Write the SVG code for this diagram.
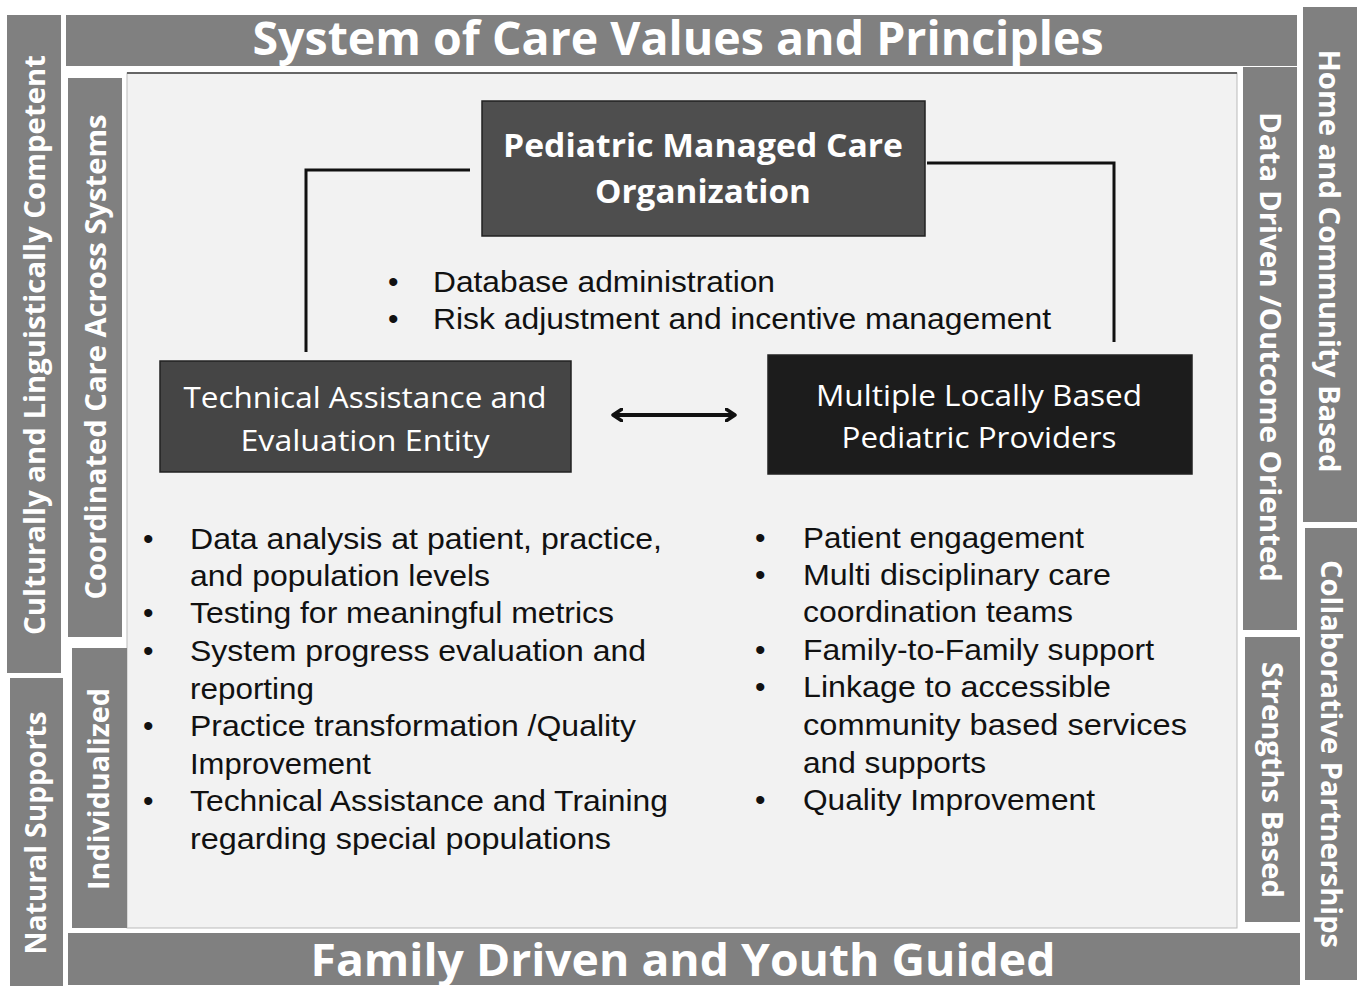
<svg xmlns="http://www.w3.org/2000/svg" width="1357" height="990" viewBox="0 0 1357 990">
<defs>
<marker id="chev" viewBox="0 0 12 14" refX="10" refY="7" markerWidth="12" markerHeight="14" markerUnits="userSpaceOnUse" orient="auto-start-reverse">
<path d="M1,1 L10,7 L1,13" fill="none" stroke="#111" stroke-width="3.5" stroke-linecap="round" stroke-linejoin="round"/>
</marker>
<style>
.band{fill:#808080;}
.bt{font-family:"Open Sans","DejaVu Sans",sans-serif;font-weight:700;fill:#ffffff;text-anchor:middle;}
.vt{font-size:29px;}
.nt{font-family:"Open Sans","DejaVu Sans",sans-serif;fill:#ffffff;text-anchor:middle;}
.bx{stroke:#222;stroke-width:1.5;}
.tx{font-family:"Liberation Sans",Arial,sans-serif;font-size:30px;fill:#111;}
.conn{fill:none;stroke:#111;stroke-width:3;}
</style>
</defs>
<rect x="0" y="0" width="1357" height="990" fill="#ffffff"/>

<g id="frame">
<rect x="127" y="73" width="1110" height="855" fill="#f2f2f2" stroke="#bbbbbb" stroke-width="1"/>
<line x1="127" y1="73" x2="1237" y2="73" stroke="#666" stroke-width="2"/>
</g>

<g id="band-top">
<rect class="band" x="66" y="15" width="1231" height="51"/>
<text class="bt" x="678" y="55" font-size="46" textLength="851" lengthAdjust="spacingAndGlyphs">System of Care Values and Principles</text>
</g>
<g id="band-bottom">
<rect class="band" x="68" y="933" width="1232" height="52"/>
<text class="bt" x="683" y="976" font-size="44" textLength="745" lengthAdjust="spacingAndGlyphs">Family Driven and Youth Guided</text>
</g>

<g id="band-culturally">
<rect class="band" x="7" y="15" width="54" height="658"/>
<text class="bt vt" transform="translate(35,345) rotate(-90)" y="10" textLength="580" lengthAdjust="spacingAndGlyphs">Culturally and Linguistically  Competent</text>
</g>
<g id="band-natural">
<rect class="band" x="10" y="678" width="53" height="308"/>
<text class="bt vt" transform="translate(36,833) rotate(-90)" y="10" textLength="243" lengthAdjust="spacingAndGlyphs">Natural Supports</text>
</g>
<g id="band-coordinated">
<rect class="band" x="68" y="78" width="54" height="559"/>
<text class="bt vt" transform="translate(96,357) rotate(-90)" y="10" textLength="485" lengthAdjust="spacingAndGlyphs">Coordinated Care Across Systems</text>
</g>
<g id="band-individualized">
<rect class="band" x="72" y="648" width="55" height="280"/>
<text class="bt vt" transform="translate(99,789) rotate(-90)" y="10" textLength="202" lengthAdjust="spacingAndGlyphs">Individualized</text>
</g>
<g id="band-datadriven">
<rect class="band" x="1243" y="67" width="54" height="563"/>
<text class="bt vt" transform="translate(1270,347) rotate(90)" y="10" textLength="470" lengthAdjust="spacingAndGlyphs">Data Driven /Outcome Oriented</text>
</g>
<g id="band-strengths">
<rect class="band" x="1245" y="637" width="55" height="285"/>
<text class="bt vt" transform="translate(1272,780) rotate(90)" y="10" textLength="236" lengthAdjust="spacingAndGlyphs">Strengths Based</text>
</g>
<g id="band-home">
<rect class="band" x="1303" y="7" width="54" height="515"/>
<text class="bt vt" transform="translate(1329,261) rotate(90)" y="10" textLength="423" lengthAdjust="spacingAndGlyphs">Home and Community Based</text>
</g>
<g id="band-collaborative">
<rect class="band" x="1305" y="528" width="52" height="452"/>
<text class="bt vt" transform="translate(1331,754) rotate(90)" y="10" textLength="388" lengthAdjust="spacingAndGlyphs">Collaborative Partnerships</text>
</g>

<g id="connectors">
<path class="conn" d="M470,170 H306 V352"/>
<path class="conn" d="M927,163 H1114 V342"/>
<line x1="613" y1="415" x2="735" y2="415" stroke="#111" stroke-width="4" marker-start="url(#chev)" marker-end="url(#chev)"/>
</g>

<g id="node-pmco">
<rect class="bx" x="482" y="101" width="443" height="135" fill="#4e4e4e"/>
<text class="nt" x="703" y="157" font-size="32" font-weight="700" textLength="400" lengthAdjust="spacingAndGlyphs">Pediatric Managed Care</text>
<text class="nt" x="703" y="203" font-size="32" font-weight="700" textLength="216" lengthAdjust="spacingAndGlyphs">Organization</text>
</g>

<g id="node-taee">
<rect class="bx" x="160" y="361" width="411" height="111" fill="#454545"/>
<text class="nt" x="365" y="408" font-size="30" textLength="363" lengthAdjust="spacingAndGlyphs">Technical Assistance and</text>
<text class="nt" x="365" y="451" font-size="30" textLength="249" lengthAdjust="spacingAndGlyphs">Evaluation Entity</text>
</g>

<g id="node-mlbpp">
<rect class="bx" x="768" y="355" width="424" height="119" fill="#1c1c1c"/>
<text class="nt" x="979" y="406" font-size="30" textLength="326" lengthAdjust="spacingAndGlyphs">Multiple Locally Based</text>
<text class="nt" x="979" y="448" font-size="30" textLength="275" lengthAdjust="spacingAndGlyphs">Pediatric Providers</text>
</g>

<g id="list-pmco">
<text class="tx" x="388" y="292">•</text>
<text class="tx" x="388" y="329">•</text>
<text class="tx" x="433" y="292" textLength="342" lengthAdjust="spacingAndGlyphs">Database administration</text>
<text class="tx" x="433" y="329" textLength="618" lengthAdjust="spacingAndGlyphs">Risk adjustment  and incentive management</text>
</g>

<g id="list-taee">
<text class="tx" x="143" y="549">•</text>
<text class="tx" x="143" y="623">•</text>
<text class="tx" x="143" y="661">•</text>
<text class="tx" x="143" y="736">•</text>
<text class="tx" x="143" y="811">•</text>
<text class="tx" x="190" y="549" textLength="472" lengthAdjust="spacingAndGlyphs">Data analysis at patient, practice,</text>
<text class="tx" x="190" y="586" textLength="300" lengthAdjust="spacingAndGlyphs">and population  levels</text>
<text class="tx" x="190" y="623" textLength="424" lengthAdjust="spacingAndGlyphs">Testing for meaningful  metrics</text>
<text class="tx" x="190" y="661" textLength="456" lengthAdjust="spacingAndGlyphs">System progress evaluation and</text>
<text class="tx" x="190" y="699" textLength="124" lengthAdjust="spacingAndGlyphs">reporting</text>
<text class="tx" x="190" y="736" textLength="446" lengthAdjust="spacingAndGlyphs">Practice transformation /Quality</text>
<text class="tx" x="190" y="774" textLength="181" lengthAdjust="spacingAndGlyphs">Improvement</text>
<text class="tx" x="190" y="811" textLength="478" lengthAdjust="spacingAndGlyphs">Technical Assistance and Training</text>
<text class="tx" x="190" y="849" textLength="421" lengthAdjust="spacingAndGlyphs">regarding  special populations</text>
</g>

<g id="list-mlbpp">
<text class="tx" x="755" y="548">•</text>
<text class="tx" x="755" y="585">•</text>
<text class="tx" x="755" y="660">•</text>
<text class="tx" x="755" y="697">•</text>
<text class="tx" x="755" y="810">•</text>
<text class="tx" x="803" y="548" textLength="281" lengthAdjust="spacingAndGlyphs">Patient engagement</text>
<text class="tx" x="803" y="585" textLength="308" lengthAdjust="spacingAndGlyphs">Multi disciplinary care</text>
<text class="tx" x="803" y="622" textLength="270" lengthAdjust="spacingAndGlyphs">coordination teams</text>
<text class="tx" x="803" y="660" textLength="351" lengthAdjust="spacingAndGlyphs">Family-to-Family support</text>
<text class="tx" x="803" y="697" textLength="308" lengthAdjust="spacingAndGlyphs">Linkage to accessible</text>
<text class="tx" x="803" y="735" textLength="384" lengthAdjust="spacingAndGlyphs">community based services</text>
<text class="tx" x="803" y="773" textLength="183" lengthAdjust="spacingAndGlyphs">and supports</text>
<text class="tx" x="803" y="810" textLength="292" lengthAdjust="spacingAndGlyphs">Quality Improvement</text>
</g>
</svg>
